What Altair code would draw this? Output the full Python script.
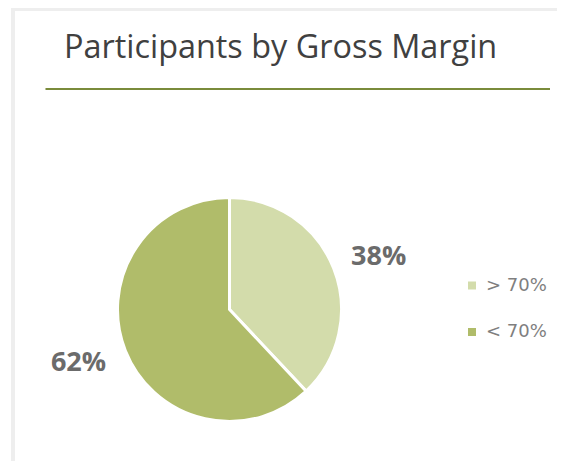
import altair as alt
import pandas as pd

categories = ["> 70%", "< 70%"]
shares = [38, 62]
labels = ["38%", "62%"]
colors = ["#d3dcab", "#b0bc6a"]
title_text = "Participants by Gross Margin"

df = pd.DataFrame({"cat": categories, "share": shares, "label": labels, "idx": [0, 1]})

W, H = 549, 453
CX, CY, R = 221.5, 301.5, 112

color_scale = alt.Scale(domain=categories, range=colors)

base = alt.Chart(df)

frame_top = base.mark_rect(color="#eeeeee").encode(
    x=alt.value(3), x2=alt.value(W), y=alt.value(0), y2=alt.value(3)
)
frame_left = base.mark_rect(color="#eeeeee").encode(
    x=alt.value(3), x2=alt.value(7), y=alt.value(0), y2=alt.value(H)
)

title = alt.Chart(pd.DataFrame({"t": [title_text]})).mark_text(
    font="Open Sans", fontSize=32.4, color="#404040", align="left", baseline="alphabetic"
).encode(x=alt.value(56), y=alt.value(50), text="t:N")

rule = base.mark_rule(color="#7a8b3b", strokeWidth=2).encode(
    x=alt.value(37.7), x2=alt.value(542), y=alt.value(81)
)

pie = base.mark_arc(outerRadius=R, stroke="white", strokeWidth=3).encode(
    theta=alt.Theta("share:Q", stack=True),
    color=alt.Color("cat:N", scale=color_scale, legend=None),
    order=alt.Order("idx:Q"),
    x=alt.value(CX),
    y=alt.value(CY),
)

lab38 = base.transform_filter(alt.datum.idx == 0).mark_text(
    font="Open Sans", fontSize=27, fontWeight="bold", color="#6b6b6b", align="center", baseline="middle"
).encode(x=alt.value(370.7), y=alt.value(249), text="label:N")

lab62 = base.transform_filter(alt.datum.idx == 1).mark_text(
    font="Open Sans", fontSize=27, fontWeight="bold", color="#6b6b6b", align="center", baseline="middle"
).encode(x=alt.value(70.5), y=alt.value(355), text="label:N")

ypos = alt.Y("cat:N", scale=alt.Scale(type="point", domain=categories, range=[277.5, 324], padding=0), axis=None)

leg_sq = base.mark_square(size=64, opacity=1).encode(
    x=alt.value(464), y=ypos,
    color=alt.Color("cat:N", scale=color_scale, legend=None),
)
leg_txt = base.mark_text(
    font="DejaVu Sans", fontSize=18, color="#7f7f7f", align="left", baseline="middle"
).encode(x=alt.value(478), y=ypos, text="cat:N")

chart = alt.layer(frame_top, frame_left, title, rule, pie, lab38, lab62, leg_sq, leg_txt).properties(
    width=W, height=H, autosize=alt.AutoSizeParams(type="none"), padding=0
).configure_view(stroke=None)

chart.save("out.html", embed_options={"renderer": "svg", "actions": False})
